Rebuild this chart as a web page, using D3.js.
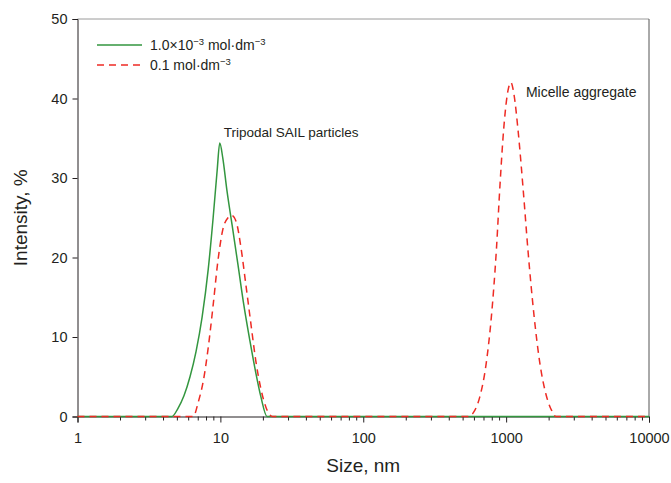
<!DOCTYPE html>
<html>
<head>
<meta charset="utf-8">
<script src="https://cdn.jsdelivr.net/npm/d3@7/dist/d3.min.js"></script>
<style>
  html, body { margin: 0; padding: 0; background: #fff; }
  svg { display: block; font-family: "Liberation Sans", Arial, sans-serif; }
</style>
</head>
<body>
<svg id="chart" width="671" height="483"></svg>
<script>
// Size distribution by intensity (DLS), two concentrations
const lowConcSizes  = [1, 4.58, 5.04, 5.56, 6.13, 6.76, 7.45, 8.22, 8.9, 9.5, 9.9, 10.4, 11.1, 12.1, 13.3, 14.6, 16.1, 17.7, 19.2, 21.2, 10000];
const lowConcValues = [0, 0,    1.0,  2.6,  5.0,  8.2,  12.5, 18.5, 25,  31,  34.4, 32.5, 28.5, 24,  19,   14,   9.5,  5.5,  2.5,  0,    0];

const highConcSizes  = [1, 6.46, 7.0, 7.6, 8.2, 8.9, 9.6, 10.4, 11.3, 12.0, 12.9, 14.0, 15.1, 16.4, 17.7, 19.2, 20.8, 23.2,
                        543, 596, 655, 723, 788, 855, 905, 965, 1036, 1081, 1135, 1212, 1317, 1428, 1572, 1729, 1900, 2090, 2230, 10000];
const highConcValues = [0, 0,    1.8, 4.5, 8.5, 14,  19.5, 23.5, 25.0, 25.3, 24.5, 21,   16.5, 11.5, 7,    3.5,  1.2,  0,
                        0,   0.6, 2.5, 6.5, 12.5, 21, 29,  36.5, 41.2, 42.0, 40.5, 36,  28.5, 20.5, 12.5, 6.5,  2.8,  0.7,  0,    0];

const seriesLabels = ["1.0×10", "0.1 mol·dm"];
const xTickValues = [1, 10, 100, 1000, 10000];
const yTickValues = [0, 10, 20, 30, 40, 50];
const annotations = [
  { text: "Tripodal SAIL particles", size: 9.9, value: 34.4 },
  { text: "Micelle aggregate", size: 1081, value: 42.0 }
];

const svg = d3.select("#chart");
const margin = { left: 77.5, right: 22, top: 19, bottom: 66.5 };
const W = 671, H = 483;

const x = d3.scaleLog().domain([1, 10000]).range([margin.left, W - margin.right]);
const y = d3.scaleLinear().domain([0, 50]).range([H - margin.bottom, margin.top]);

const green = "#33963f";
const red = "#ee2b24";
const axisColor = "#231f20";

// Frame: top and right edges
svg.append("line")
  .attr("x1", x(1)).attr("x2", x(10000))
  .attr("y1", y(50)).attr("y2", y(50))
  .attr("stroke", "#9a9a9a").attr("stroke-width", 1);
svg.append("line")
  .attr("x1", x(10000)).attr("x2", x(10000))
  .attr("y1", y(50)).attr("y2", y(0))
  .attr("stroke", "#555").attr("stroke-width", 1);

// Curves
const line = d3.line()
  .x(d => x(d[0]))
  .y(d => y(d[1]))
  .curve(d3.curveMonotoneX);

const lowData = lowConcSizes.map((s, i) => [s, lowConcValues[i]]);
const highData = highConcSizes.map((s, i) => [s, highConcValues[i]]);

// X axis
const xAxis = svg.append("g")
  .attr("transform", `translate(0,${y(0)})`);
const minorTicks = [];
for (let e = 0; e < 4; e++) {
  for (let m = 2; m <= 9; m++) minorTicks.push(m * Math.pow(10, e));
}
xAxis.selectAll("line.minor").data(minorTicks).join("line")
  .attr("class", "minor")
  .attr("x1", d => x(d)).attr("x2", d => x(d))
  .attr("y1", 0).attr("y2", 4)
  .attr("stroke", axisColor).attr("stroke-width", 1);
xAxis.call(d3.axisBottom(x).tickValues(xTickValues).tickFormat(d3.format("d")).tickSize(6).tickPadding(10));
xAxis.select(".domain").attr("stroke", axisColor);
xAxis.selectAll(".tick line").attr("stroke", axisColor);
xAxis.selectAll(".tick text")
  .attr("font-size", 14.5).attr("fill", "#231f20")
  .attr("font-family", "'Liberation Sans', Arial, sans-serif");

// Y axis
const yAxis = svg.append("g")
  .attr("transform", `translate(${x(1)},0)`);
yAxis.call(d3.axisLeft(y).tickValues(yTickValues).tickSize(5).tickPadding(5));
yAxis.select(".domain").attr("stroke", axisColor);
yAxis.selectAll(".tick line").attr("stroke", axisColor);
yAxis.selectAll(".tick text")
  .attr("font-size", 14.5).attr("fill", "#231f20")
  .attr("font-family", "'Liberation Sans', Arial, sans-serif");

svg.append("path")
  .datum(lowData)
  .attr("d", line)
  .attr("fill", "none")
  .attr("stroke", green)
  .attr("stroke-width", 1.5);

svg.append("path")
  .datum(highData)
  .attr("d", line)
  .attr("fill", "none")
  .attr("stroke", red)
  .attr("stroke-width", 1.5)
  .attr("stroke-dasharray", "7,5");

// Axis titles
svg.append("text")
  .attr("x", (x(1) + x(10000)) / 2)
  .attr("y", 472)
  .attr("text-anchor", "middle")
  .attr("font-size", 19)
  .attr("fill", "#231f20")
  .text("Size, nm");

svg.append("text")
  .attr("transform", `translate(27,${(y(0) + y(50)) / 2}) rotate(-90)`)
  .attr("text-anchor", "middle")
  .attr("font-size", 19)
  .attr("fill", "#231f20")
  .text("Intensity, %");

// Legend
const legend = svg.append("g");
const legendRows = [
  { label: seriesLabels[0], color: green, dash: null, y: 45, sup1: "−3", tail: " mol·dm", sup2: "−3" },
  { label: seriesLabels[1], color: red, dash: "7,5", y: 65, sup1: "−3", tail: "", sup2: null }
];
legendRows.forEach(r => {
  legend.append("line")
    .attr("x1", 97).attr("x2", 142)
    .attr("y1", r.y).attr("y2", r.y)
    .attr("stroke", r.color).attr("stroke-width", 1.5)
    .attr("stroke-dasharray", r.dash);
  const t = legend.append("text")
    .attr("x", 150).attr("y", r.y + 5)
    .attr("font-size", 14).attr("fill", "#231f20");
  t.append("tspan").text(r.label);
  t.append("tspan").attr("font-size", 9.5).attr("dy", -5).text(r.sup1);
  if (r.sup2) {
    t.append("tspan").attr("dy", 5).text(r.tail);
    t.append("tspan").attr("font-size", 9.5).attr("dy", -5).text(r.sup2);
  }
});

// Peak annotations
svg.append("text")
  .attr("x", x(annotations[0].size) + 4)
  .attr("y", y(annotations[0].value) - 6)
  .attr("font-size", 13.5).attr("fill", "#231f20")
  .text(annotations[0].text);
svg.append("text")
  .attr("x", x(annotations[1].size) + 15)
  .attr("y", y(annotations[1].value) + 14)
  .attr("font-size", 14).attr("fill", "#231f20")
  .text(annotations[1].text);
</script>
</body>
</html>
